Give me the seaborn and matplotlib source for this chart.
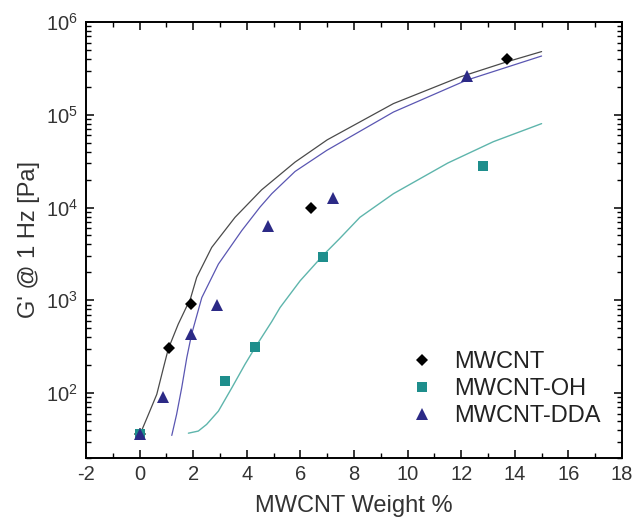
import matplotlib
matplotlib.use("Agg")
import matplotlib.pyplot as plt
import matplotlib.transforms as mtransforms
import seaborn as sns
from matplotlib.ticker import MultipleLocator, NullFormatter

# ---- data ----
mw_x = [0.0, 1.1, 1.9, 6.4, 13.7]
mw_y = [36, 310, 920, 10000, 400000]

oh_x = [0.0, 3.2, 4.3, 6.85, 12.8]
oh_y = [36, 135, 315, 2900, 28000]

dda_x = [0.0, 0.87, 1.9, 2.9, 4.8, 7.2, 12.2]
dda_y = [36, 90, 430, 880, 6400, 12600, 260000]

# fitted curves
fit_mw_x = [0.0, 0.33, 0.64, 0.89, 1.07, 1.44, 1.9, 2.13, 2.69, 3.56, 4.55,
            5.8, 7.0, 9.47, 11.96, 13.7, 15.0]
fit_mw_y = [35, 59, 97, 188, 300, 553, 1050, 1770, 3720, 7850, 15500,
            30900, 53700, 132000, 256000, 372000, 480000]

fit_dda_x = [1.2, 1.38, 1.57, 1.76, 1.94, 2.32, 2.94, 3.81, 4.49, 4.93,
             5.8, 6.98, 9.47, 12.2, 15.0]
fit_dda_y = [35, 59, 114, 241, 431, 1070, 2460, 5640, 10100, 14100,
             24500, 41300, 107000, 236000, 430000]

fit_oh_x = [1.82, 2.19, 2.5, 2.94, 3.44, 3.93, 4.31, 4.93, 5.24, 5.99,
            6.86, 7.45, 8.22, 9.47, 11.5, 13.2, 15.0]
fit_oh_y = [37, 39, 46, 64, 114, 204, 310, 590, 836, 1625,
            3090, 4590, 7850, 14100, 30200, 51300, 80300]

labels = ["MWCNT", "MWCNT-OH", "MWCNT-DDA"]
xticks = [-2, 0, 2, 4, 6, 8, 10, 12, 14, 16, 18]

sns.set_theme(style="white", rc={
    "xtick.direction": "in", "ytick.direction": "in",
    "xtick.bottom": True, "ytick.left": True,
    "axes.edgecolor": "black", "axes.linewidth": 1.4,
})
plt.rcParams["font.family"] = ["Liberation Sans", "DejaVu Sans"]
plt.rcParams["mathtext.fontset"] = "custom"
plt.rcParams["mathtext.rm"] = "Liberation Sans"
plt.rcParams["axes.unicode_minus"] = False

fig = plt.figure(figsize=(6.33, 5.24), dpi=100)
ax = fig.add_axes([0.1359, 0.126, 0.8467, 0.832])
ax.set_yscale("log")

c_black = "#000000"
c_teal = "#1e8e8c"
c_navy = "#2c2a86"

sns.lineplot(x=fit_mw_x, y=fit_mw_y, ax=ax, color="#4a4a4a", linewidth=0.9, sort=False)
sns.lineplot(x=fit_dda_x, y=fit_dda_y, ax=ax, color="#5a56b2", linewidth=0.9, sort=False)
sns.lineplot(x=fit_oh_x, y=fit_oh_y, ax=ax, color="#5eb5ac", linewidth=1.0, sort=False)

sns.lineplot(x=mw_x, y=mw_y, ax=ax, marker="D", linestyle="", color=c_black,
             markersize=6.3, markeredgewidth=0, sort=False, label=labels[0])
sns.lineplot(x=oh_x, y=oh_y, ax=ax, marker="s", linestyle="", color=c_teal,
             markersize=6.6, markeredgewidth=0, sort=False, label=labels[1])
sns.lineplot(x=dda_x, y=dda_y, ax=ax, marker="^", linestyle="", color=c_navy,
             markersize=8.5, markeredgewidth=0, sort=False, label=labels[2])

ax.set_xlim(-2, 18)
ax.set_ylim(20, 1e6)
ax.set_xticks(xticks)
ax.xaxis.set_minor_locator(MultipleLocator(1))
ax.yaxis.set_minor_formatter(NullFormatter())

# native ticks keep only their labels; the tick marks are drawn as segments below
ax.tick_params(which="both", direction="in", length=0, top=False, right=False)
ax.tick_params(which="major", labelsize=14.5, pad=5, labelcolor="#333333")
ax.tick_params(axis="y", which="major", pad=6)

for s in ax.spines.values():
    s.set_linewidth(1.4)
    s.set_color("black")

# inward tick marks on all four sides, at the axis locator positions
bbox = ax.get_position()
ax_w_pt = bbox.width * fig.get_figwidth() * 72.0
ax_h_pt = bbox.height * fig.get_figheight() * 72.0
tx = mtransforms.blended_transform_factory(ax.transData, ax.transAxes)
ty = mtransforms.blended_transform_factory(ax.transAxes, ax.transData)
x0, x1 = ax.get_xlim()
y0, y1 = ax.get_ylim()


def inside(v, lo, hi):
    return lo - 1e-9 <= v <= hi + 1e-9


for locs, length, width in [(ax.xaxis.get_majorticklocs(), 6.0, 1.1),
                            (ax.xaxis.get_minorticklocs(), 3.5, 1.0)]:
    f = length / ax_h_pt
    for v in locs:
        if not inside(v, x0, x1):
            continue
        ax.plot([v, v], [0, f], transform=tx, color="black", lw=width, clip_on=False,
                solid_capstyle="butt", zorder=4)
        ax.plot([v, v], [1, 1 - f], transform=tx, color="black", lw=width, clip_on=False,
                solid_capstyle="butt", zorder=4)

for locs, length, width in [(ax.yaxis.get_majorticklocs(), 6.0, 1.1),
                            (ax.yaxis.get_minorticklocs(), 3.5, 1.0)]:
    f = length / ax_w_pt
    for v in locs:
        if not inside(v, y0, y1):
            continue
        ax.plot([0, f], [v, v], transform=ty, color="black", lw=width, clip_on=False,
                solid_capstyle="butt", zorder=4)
        ax.plot([1, 1 - f], [v, v], transform=ty, color="black", lw=width, clip_on=False,
                solid_capstyle="butt", zorder=4)

ax.set_xlim(x0, x1)
ax.set_ylim(y0, y1)

ax.set_xlabel("MWCNT Weight %", fontsize=17, color="#333333", labelpad=8)
ax.set_ylabel("G' @ 1 Hz [Pa]", fontsize=17, color="#333333", labelpad=4)

leg = ax.legend(loc="center left", bbox_to_anchor=(0.605, 0.158), frameon=False,
                fontsize=17, handlelength=1.0, handletextpad=0.85, labelspacing=0.2,
                borderpad=0, borderaxespad=0)
for t in leg.get_texts():
    t.set_color("#222222")

fig.savefig("out.png", dpi=100)
